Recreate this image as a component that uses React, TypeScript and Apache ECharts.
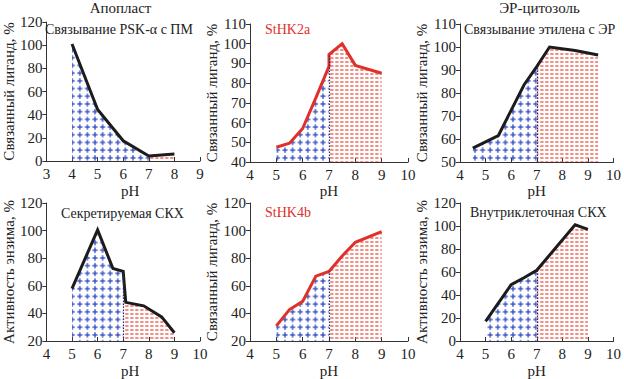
import React, { useEffect, useRef } from "react";
import * as echarts from "echarts";

// ---- data ----
const PH_PSK = [4, 5, 6, 7, 8];
const BOUND_PSK = [101, 44.5, 17.5, 4.3, 6];

const PH_HK2A = [5, 5.5, 6, 6.5, 7, 7, 7.5, 8, 9];
const BOUND_HK2A = [47.5, 49.5, 57, 72.5, 88.5, 94.5, 100, 89, 85];

const PH_ETH = [4.5, 5.5, 6.5, 7, 7.5, 8.5, 9.4];
const BOUND_ETH = [56, 61.5, 83.5, 91.5, 100, 98.5, 96.5];

const PH_SEC = [5, 6, 6.6, 7, 7.1, 7.8, 8.5, 9];
const ACT_SEC = [58, 100.5, 72.5, 70.5, 48, 45.5, 37.5, 26];

const PH_HK4B = [5, 5.5, 6, 6.5, 7, 7.5, 8, 9];
const BOUND_HK4B = [31, 42.8, 48.7, 67, 70.4, 81.6, 91.5, 99.3];

const PH_INT = [5, 6, 6.5, 7, 8.5, 9];
const ACT_INT = [17, 49, 55, 61.5, 101, 97];

const SPLIT_PH = 7;

const PANEL_LABELS = [
  "Связывание PSK-α с ПМ",
  "StHK2a",
  "Связывание этилена с ЭР",
  "Секретируемая СКХ",
  "StHK4b",
  "Внутриклеточная СКХ",
];
const Y_NAMES = [
  "Связанный лиганд, %",
  "Связанный лиганд, %",
  "Связанный лиганд, %",
  "Активность энзима, %",
  "Связанный лиганд, %",
  "Активность энзима, %",
];
const X_NAME = "pH";
const GROUP_TITLES = ["Апопласт", "ЭР-цитозоль"];

const X_MIN = [3, 4, 4, 4, 4, 4];
const X_MAX = [9, 10, 10, 10, 10, 10];
const Y_MIN = [0, 40, 50, 20, 20, 0];
const Y_MAX = [120, 110, 110, 120, 120, 120];
const Y_STEP = [20, 10, 10, 20, 20, 20];

const BLACK = "#1c1c1c";
const RED = "#e0302a";
const FONT = "Liberation Serif";

const crossSvg =
  '<svg xmlns="http://www.w3.org/2000/svg" width="30" height="30" viewBox="0 0 30 30">' +
  '<path d="M15 5 V25 M5 15 H25" stroke="#3a52c4" stroke-width="5.5" fill="none"/></svg>';
const dashSvg =
  '<svg xmlns="http://www.w3.org/2000/svg" width="20" height="16" viewBox="0 0 20 16">' +
  '<path d="M1 8 H14" stroke="#ec5040" stroke-width="5.2" fill="none"/></svg>';

const bluePattern: any = {
  image: "data:image/svg+xml;charset=utf-8," + encodeURIComponent(crossSvg),
  repeat: "repeat",
  imageWidth: 7.6,
  imageHeight: 7.7,
};
const redPattern: any = {
  image: "data:image/svg+xml;charset=utf-8," + encodeURIComponent(dashSvg),
  repeat: "repeat",
  imageWidth: 5,
  imageHeight: 4,
};

const PANELS = [
  { ph: PH_PSK, v: BOUND_PSK, color: BLACK },
  { ph: PH_HK2A, v: BOUND_HK2A, color: RED },
  { ph: PH_ETH, v: BOUND_ETH, color: BLACK },
  { ph: PH_SEC, v: ACT_SEC, color: BLACK },
  { ph: PH_HK4B, v: BOUND_HK4B, color: RED },
  { ph: PH_INT, v: ACT_INT, color: BLACK },
];

// layout (pixels)
const GRIDS = [
  { left: 43, top: 22, width: 157, height: 139 },
  { left: 250, top: 24, width: 158, height: 138 },
  { left: 460, top: 24, width: 158, height: 138 },
  { left: 42, top: 203, width: 158, height: 141 },
  { left: 250, top: 203, width: 158, height: 141 },
  { left: 460, top: 203, width: 158, height: 140 },
];
const Y_NAME_GAP = [19, 25, 27, 24, 24, 26];
const X_NAME_GAP = [22, 21, 21, 22, 22, 22];
const LABEL_POS = [
  { x: 45, y: 29 },
  { x: 265, y: 29 },
  { x: 464, y: 29 },
  { x: 61, y: 213 },
  { x: 265, y: 212 },
  { x: 470, y: 212 },
];

export default function App() {
  const ref = useRef<HTMLDivElement>(null);
  useEffect(() => {
    if (!ref.current) return;
    const chart = echarts.init(ref.current, undefined, { renderer: "svg" });
    const textStyle = { fontFamily: FONT, fontSize: 15, color: "#222" };

    const grid = GRIDS.map((g) => ({ ...g, containLabel: false }));
    const xAxis = PANELS.map((_, i) => ({
      type: "value",
      gridIndex: i,
      min: X_MIN[i],
      max: X_MAX[i],
      interval: 1,
      name: X_NAME,
      nameLocation: "middle",
      nameGap: X_NAME_GAP[i],
      nameTextStyle: {
        ...textStyle,
        padding: i === 0 || i === 3 ? [0, 0, 0, 14] : 0,
      },
      splitLine: { show: false },
      axisLine: { show: true, onZero: false, lineStyle: { color: "#333", width: 1 } },
      axisTick: { show: true, inside: true, length: 4, lineStyle: { color: "#333" } },
      axisLabel: { ...textStyle, margin: 5, showMinLabel: true, showMaxLabel: true },
    }));
    const yAxis = PANELS.map((_, i) => ({
      type: "value",
      gridIndex: i,
      min: Y_MIN[i],
      max: Y_MAX[i],
      interval: Y_STEP[i],
      name: Y_NAMES[i],
      nameLocation: "middle",
      nameGap: Y_NAME_GAP[i],
      nameTextStyle: textStyle,
      splitLine: { show: false },
      axisLine: { show: true, onZero: false, lineStyle: { color: "#333", width: 1 } },
      axisTick: { show: true, inside: false, length: 4, lineStyle: { color: "#333" } },
      axisLabel: { ...textStyle, margin: 4, showMinLabel: true, showMaxLabel: true },
    }));

    const series: any[] = [];
    PANELS.forEach((p, i) => {
      const pts = p.ph.map((x, k) => [x, p.v[k]]);
      const blue = pts.filter((d) => d[0] <= SPLIT_PH);
      let firstSplit = -1;
      pts.forEach((d, k) => {
        if (d[0] >= SPLIT_PH && firstSplit < 0) firstSplit = k;
      });
      let redStart = firstSplit;
      while (redStart + 1 < pts.length && pts[redStart + 1][0] === SPLIT_PH) redStart++;
      const red = pts.slice(redStart);
      const splitTop = blue.length ? blue[blue.length - 1][1] : Y_MIN[i];
      series.push({
        type: "line",
        xAxisIndex: i,
        yAxisIndex: i,
        data: blue,
        symbol: "none",
        silent: true,
        lineStyle: { width: 0, opacity: 0 },
        areaStyle: { color: bluePattern, opacity: 1, origin: "start" },
        markLine: {
          symbol: "none",
          silent: true,
          label: { show: false },
          lineStyle: { type: [1.5, 1.5], color: "#1f2a66", width: 1.2 },
          data: [[{ coord: [SPLIT_PH, Y_MIN[i]] }, { coord: [SPLIT_PH, splitTop] }]],
        },
        z: 1,
      });
      series.push({
        type: "line",
        xAxisIndex: i,
        yAxisIndex: i,
        data: red,
        symbol: "none",
        silent: true,
        lineStyle: { width: 0, opacity: 0 },
        areaStyle: { color: redPattern, opacity: 1, origin: "start" },
        z: 1,
      });
      series.push({
        type: "line",
        xAxisIndex: i,
        yAxisIndex: i,
        data: pts,
        symbol: "none",
        silent: true,
        lineStyle: { width: 3, color: p.color, join: "miter" },
        z: 3,
      });
    });

    const mkText = (text: string, x: number, y: number, fill: string, align: string, size: number) => ({
      type: "text",
      x,
      y,
      z: 10,
      style: {
        text,
        fontFamily: FONT,
        fontSize: size,
        fill,
        align,
        verticalAlign: "middle",
      },
    });

    const graphic: any[] = [
      mkText(GROUP_TITLES[0], 120.5, 8, "#222", "center", 15),
      mkText(GROUP_TITLES[1], 539.5, 8, "#222", "center", 15),
      ...PANEL_LABELS.map((t, i) =>
        mkText(t, LABEL_POS[i].x, LABEL_POS[i].y, PANELS[i].color === RED ? RED : "#222", "left", 14)
      ),
    ];

    chart.setOption({
      animation: false,
      backgroundColor: "#ffffff",
      grid,
      xAxis,
      yAxis,
      series,
      graphic,
    } as any);
    return () => chart.dispose();
  }, []);
  return (
    <div
      ref={ref}
      style={{ position: "fixed", left: 0, top: 0, width: 624, height: 379, background: "#fff" }}
    />
  );
}
